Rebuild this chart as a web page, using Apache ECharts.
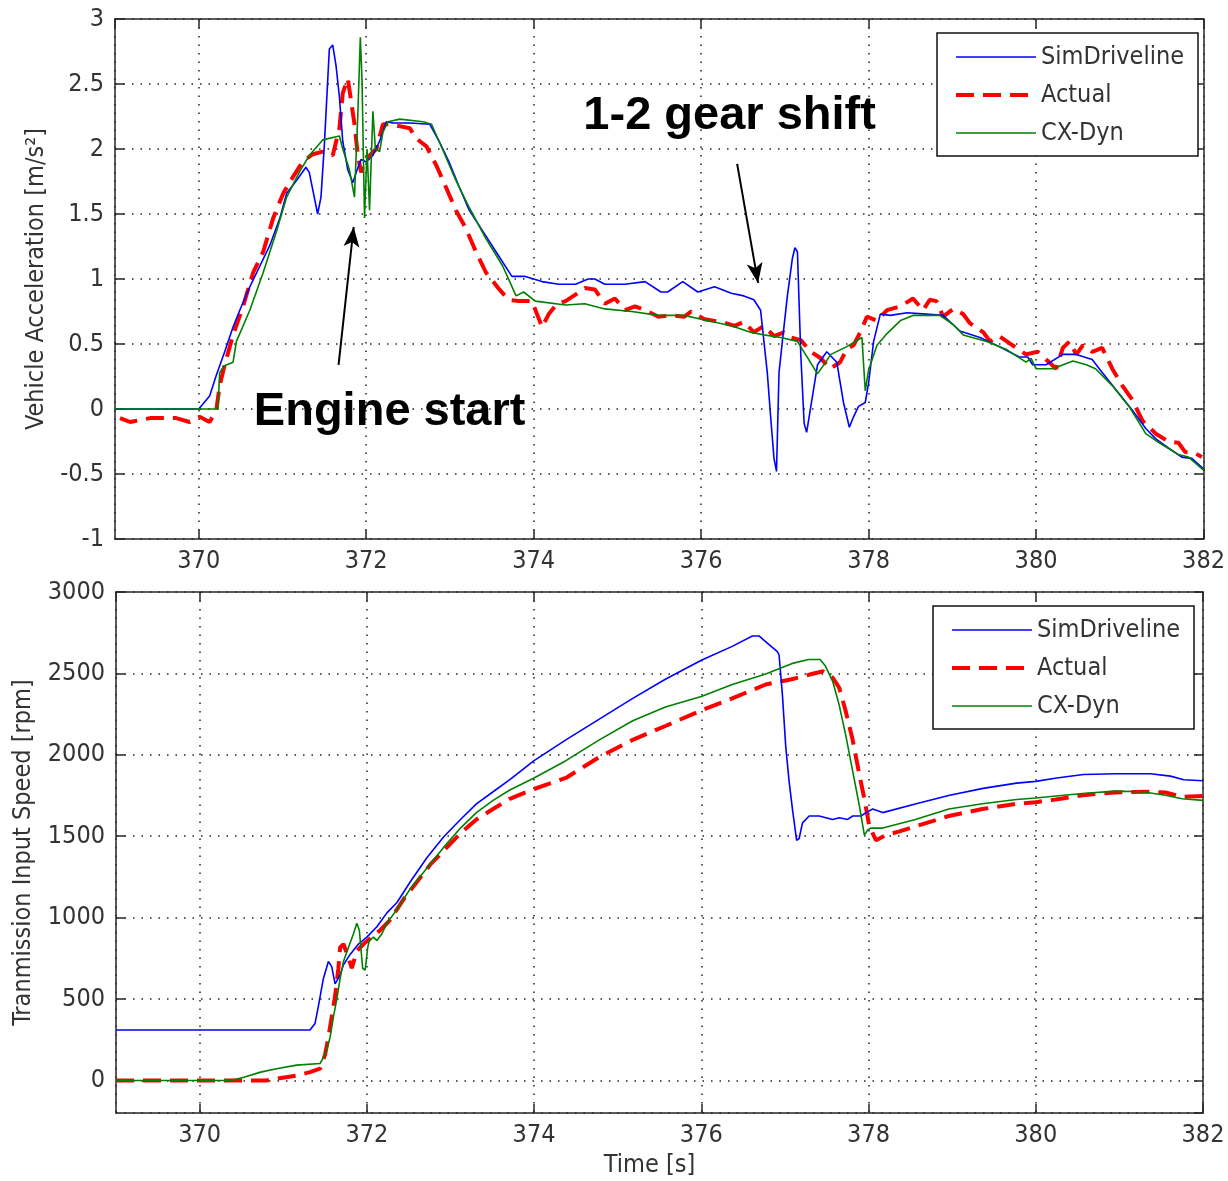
<!DOCTYPE html>
<html>
<head>
<meta charset="utf-8">
<script src="https://cdn.jsdelivr.net/npm/echarts@6/dist/echarts.min.js"></script>
<style>
html,body{margin:0;padding:0;background:#fff;}
#chart{width:1228px;height:1181px;}
</style>
</head>
<body>
<div id="chart"></div>
<script>
// ---------- DATA ----------
const seriesNames = ['SimDriveline', 'Actual', 'CX-Dyn'];
const xTicks = [370, 372, 374, 376, 378, 380, 382];

// Top panel: vehicle acceleration [m/s^2] as [time, value]
const accSim = [[369,0],[370,0],[370.13,0.1],[370.21,0.26],[370.31,0.44],[370.41,0.63],[370.49,0.76],[370.61,0.94],[370.73,1.1],[370.85,1.26],[370.97,1.47],[371.05,1.66],[371.17,1.76],[371.28,1.86],[371.32,1.82],[371.42,1.5],[371.46,1.63],[371.5,2.03],[371.56,2.77],[371.6,2.8],[371.64,2.64],[371.68,2.4],[371.72,2.06],[371.78,1.84],[371.84,1.74],[371.88,1.82],[371.94,1.92],[372.0,1.9],[372.08,1.95],[372.16,2.06],[372.24,2.21],[372.32,2.2],[372.52,2.2],[372.76,2.19],[372.87,2.06],[372.99,1.9],[373.11,1.71],[373.23,1.53],[373.39,1.37],[373.55,1.21],[373.74,1.02],[373.9,1.02],[374.1,0.98],[374.3,0.96],[374.5,0.96],[374.65,1.0],[374.73,1.0],[374.85,0.96],[375.09,0.96],[375.33,0.98],[375.52,0.9],[375.6,0.9],[375.78,0.98],[375.96,0.9],[376.16,0.94],[376.36,0.89],[376.51,0.87],[376.63,0.84],[376.71,0.76],[376.75,0.52],[376.79,0.28],[376.83,-0.06],[376.87,-0.38],[376.9,-0.48],[376.93,0.28],[376.97,0.52],[377.03,0.87],[377.09,1.16],[377.12,1.24],[377.15,1.21],[377.19,0.42],[377.23,-0.11],[377.26,-0.18],[377.31,0.02],[377.39,0.34],[377.5,0.44],[377.62,0.36],[377.7,0.05],[377.77,-0.14],[377.82,-0.06],[377.88,0.02],[377.96,0.05],[378.0,0.2],[378.06,0.52],[378.14,0.73],[378.26,0.72],[378.46,0.74],[378.69,0.73],[378.89,0.72],[379.09,0.6],[379.33,0.55],[379.56,0.48],[379.8,0.4],[379.9,0.4],[379.96,0.34],[380.12,0.34],[380.32,0.42],[380.48,0.42],[380.67,0.38],[380.79,0.28],[380.99,0.12],[381.15,-0.01],[381.31,-0.15],[381.43,-0.23],[381.58,-0.3],[381.74,-0.37],[381.86,-0.38],[382,-0.46]];
const accActual = [[369.06,-0.07],[369.18,-0.1],[369.42,-0.07],[369.73,-0.07],[369.89,-0.1],[370.01,-0.06],[370.13,-0.1],[370.21,-0.01],[370.25,0.18],[370.31,0.34],[370.41,0.57],[370.53,0.79],[370.65,1.05],[370.77,1.21],[370.89,1.47],[371.01,1.66],[371.13,1.79],[371.24,1.9],[371.36,1.96],[371.48,1.98],[371.6,1.95],[371.68,2.16],[371.72,2.43],[371.78,2.54],[371.82,2.37],[371.86,2.19],[371.9,1.95],[371.94,1.82],[371.98,1.92],[372.04,1.95],[372.12,2.0],[372.2,2.19],[372.28,2.19],[372.44,2.17],[372.52,2.16],[372.6,2.08],[372.72,2.02],[372.84,1.87],[372.95,1.71],[373.07,1.53],[373.19,1.39],[373.31,1.21],[373.43,1.05],[373.59,0.92],[373.7,0.84],[373.82,0.83],[373.98,0.83],[374.04,0.73],[374.1,0.63],[374.18,0.73],[374.28,0.81],[374.38,0.83],[374.5,0.88],[374.61,0.93],[374.73,0.92],[374.85,0.81],[374.97,0.85],[375.09,0.76],[375.21,0.79],[375.33,0.76],[375.49,0.71],[375.64,0.72],[375.8,0.71],[375.88,0.75],[376.04,0.69],[376.24,0.67],[376.4,0.64],[376.51,0.67],[376.63,0.59],[376.75,0.64],[376.87,0.56],[376.99,0.59],[377.07,0.55],[377.19,0.53],[377.31,0.44],[377.43,0.39],[377.54,0.31],[377.66,0.36],[377.74,0.46],[377.82,0.49],[377.9,0.59],[377.98,0.71],[378.1,0.68],[378.22,0.76],[378.38,0.79],[378.53,0.85],[378.65,0.76],[378.73,0.84],[378.81,0.83],[378.89,0.71],[379.01,0.77],[379.13,0.73],[379.21,0.66],[379.37,0.59],[379.45,0.52],[379.56,0.56],[379.72,0.49],[379.88,0.42],[380.02,0.44],[380.12,0.38],[380.24,0.31],[380.32,0.47],[380.4,0.52],[380.48,0.42],[380.56,0.49],[380.67,0.44],[380.79,0.47],[380.91,0.31],[381.03,0.18],[381.15,0.07],[381.27,-0.09],[381.43,-0.19],[381.58,-0.25],[381.7,-0.26],[381.78,-0.33],[381.9,-0.34],[381.98,-0.37]];
const accCX = [[369,0],[370.23,0],[370.25,0.28],[370.3,0.33],[370.41,0.36],[370.45,0.52],[370.61,0.76],[370.77,1.05],[370.93,1.37],[371.05,1.63],[371.2,1.82],[371.32,1.95],[371.48,2.07],[371.68,2.1],[371.72,2.0],[371.8,1.84],[371.86,1.63],[371.9,2.27],[371.93,2.86],[371.95,2.53],[371.98,1.47],[372.01,2.0],[372.04,1.53],[372.08,2.29],[372.11,2.0],[372.16,1.98],[372.2,2.13],[372.26,2.21],[372.4,2.23],[372.68,2.21],[372.78,2.19],[372.91,2.0],[373.07,1.76],[373.23,1.55],[373.43,1.31],[373.63,1.1],[373.79,0.87],[373.88,0.9],[374.02,0.83],[374.38,0.8],[374.61,0.81],[374.85,0.77],[375.17,0.75],[375.49,0.72],[375.8,0.72],[376,0.69],[376.36,0.64],[376.59,0.59],[376.75,0.57],[376.95,0.55],[377.15,0.52],[377.39,0.27],[377.55,0.42],[377.74,0.48],[377.92,0.55],[377.96,0.14],[378.0,0.3],[378.1,0.49],[378.22,0.58],[378.38,0.68],[378.53,0.72],[378.85,0.72],[379.01,0.65],[379.13,0.57],[379.41,0.52],[379.64,0.46],[379.88,0.36],[379.94,0.39],[380.0,0.31],[380.2,0.31],[380.44,0.37],[380.6,0.34],[380.71,0.31],[380.91,0.18],[381.11,0.02],[381.31,-0.19],[381.47,-0.26],[381.7,-0.35],[381.82,-0.37],[382,-0.47]];

// Bottom panel: transmission input speed [rpm] as [time, value]
const spdSim = [[369,310],[371.32,310],[371.38,349],[371.42,455],[371.48,625],[371.54,731],[371.58,699],[371.62,593],[371.68,646],[371.72,710],[371.8,774],[371.9,838],[372,880],[372.12,944],[372.24,1029],[372.36,1093],[372.52,1220],[372.72,1369],[372.92,1497],[373.12,1603],[373.31,1699],[373.51,1773],[373.71,1847],[374,1964],[374.38,2092],[374.78,2219],[375.18,2347],[375.57,2464],[376,2581],[376.37,2666],[376.61,2730],[376.69,2730],[376.81,2677],[376.91,2634],[376.93,2613],[376.97,2368],[377.01,2049],[377.05,1837],[377.09,1667],[377.14,1475],[377.17,1486],[377.21,1582],[377.29,1624],[377.41,1624],[377.57,1603],[377.65,1614],[377.75,1603],[377.81,1624],[377.91,1624],[377.97,1645],[378.05,1667],[378.17,1645],[378.57,1699],[378.97,1752],[379.37,1794],[379.77,1826],[380,1837],[380.25,1858],[380.57,1879],[380.97,1884],[381.37,1884],[381.61,1869],[381.77,1847],[382,1841]];
const spdActual = [[369,0],[370.8,0],[371.16,30],[371.32,51],[371.44,72],[371.5,157],[371.54,264],[371.58,391],[371.62,519],[371.66,689],[371.68,816],[371.72,838],[371.78,753],[371.82,689],[371.88,795],[371.96,838],[372.06,880],[372.16,923],[372.28,986],[372.44,1114],[372.6,1220],[372.76,1327],[372.92,1412],[373.12,1518],[373.31,1603],[373.51,1667],[373.71,1730],[374,1790],[374.38,1858],[374.78,1986],[375.18,2092],[375.57,2177],[376,2273],[376.37,2347],[376.77,2432],[377.08,2464],[377.32,2496],[377.46,2513],[377.57,2475],[377.65,2411],[377.73,2262],[377.81,2092],[377.89,1879],[377.95,1730],[378.01,1560],[378.09,1475],[378.21,1507],[378.36,1528],[378.56,1560],[378.96,1624],[379.36,1667],[379.77,1699],[380,1709],[380.24,1726],[380.56,1752],[380.95,1769],[381.35,1773],[381.55,1769],[381.75,1741],[382,1747]];
const spdCX = [[369,0],[370.37,0],[370.53,19],[370.73,51],[370.92,72],[371.16,94],[371.44,104],[371.5,157],[371.56,264],[371.6,391],[371.64,497],[371.68,625],[371.72,731],[371.78,816],[371.84,901],[371.88,965],[371.91,923],[371.95,689],[371.98,678],[372.01,816],[372.03,859],[372.08,880],[372.12,859],[372.18,901],[372.24,965],[372.36,1050],[372.52,1178],[372.72,1305],[372.92,1433],[373.12,1550],[373.31,1645],[373.51,1720],[373.71,1784],[374,1858],[374.38,1964],[374.78,2092],[375.18,2209],[375.57,2294],[376,2358],[376.37,2432],[376.77,2496],[377.08,2560],[377.28,2585],[377.42,2585],[377.48,2549],[377.57,2453],[377.65,2304],[377.73,2113],[377.81,1900],[377.89,1688],[377.95,1507],[377.99,1539],[378.03,1550],[378.17,1550],[378.56,1603],[378.96,1667],[379.36,1699],[379.77,1726],[380,1735],[380.24,1747],[380.56,1762],[380.95,1777],[381.27,1773],[381.55,1752],[381.75,1730],[382,1720]];

// Annotations (top panel, data coordinates)
const annoTexts = ['Engine start', '1-2 gear shift'];
const annoTextPos = [[372.28, -0.02], [376.34, 2.25]];
const annoArrowFrom = [[371.67, 0.34], [376.43, 1.885]];
const annoArrowTo = [[371.85, 1.40], [376.68, 0.97]];

// ---------- CHART ----------
const FONT = "'Liberation Sans Narrow', 'DejaVu Sans Condensed', 'Liberation Sans', Arial, sans-serif";
const AX = '#262626';
const colors = ['#0000ff', '#ff0000', '#008000'];
const lineStyles = [
  {color: colors[0], width: 1.6},
  {color: colors[1], width: 4, type: [18, 9]},
  {color: colors[2], width: 1.6}
];

const chart = echarts.init(document.getElementById('chart'), null, {renderer: 'canvas'});

const plainNum = v => String(v);

function mainX(gi, showName) {
  return {
    type: 'value', gridIndex: gi, min: 369, max: 382, splitNumber: 6, position: 'bottom',
    axisLine: {show: true, onZero: false, lineStyle: {color: AX, width: 1.5}},
    axisTick: {show: true, inside: true, length: 9, lineStyle: {color: AX, width: 1.5}},
    axisLabel: {show: true, showMinLabel: false, color: '#333', fontFamily: FONT, fontSize: 25, margin: 10, formatter: plainNum},
    splitLine: {show: true, lineStyle: {color: '#222', width: 1.5, type: [1.5, 7]}},
    name: showName ? 'Time [s]' : '', nameLocation: 'middle', nameGap: 40,
    nameTextStyle: {color: '#333', fontFamily: FONT, fontSize: 25, padding: [0, 20, 0, 0]}
  };
}
function mirrorX(gi) {
  return {
    type: 'value', gridIndex: gi, min: 369, max: 382, splitNumber: 6, position: 'top',
    axisLine: {show: true, onZero: false, lineStyle: {color: AX, width: 1.5}},
    axisTick: {show: true, inside: true, length: 9, lineStyle: {color: AX, width: 1.5}},
    axisLabel: {show: false}, splitLine: {show: false}
  };
}
function mainY(gi, min, max, name, gap) {
  return {
    type: 'value', gridIndex: gi, min: min, max: max, splitNumber: (gi === 0 ? 8 : 6), position: 'left',
    axisLine: {show: true, onZero: false, lineStyle: {color: AX, width: 1.5}},
    axisTick: {show: true, inside: true, length: 9, lineStyle: {color: AX, width: 1.5}},
    axisLabel: {show: true, showMinLabel: gi === 0, color: '#333', fontFamily: FONT, fontSize: 25, margin: 11, formatter: plainNum},
    splitLine: {show: true, lineStyle: {color: '#222', width: 1.5, type: [1.5, 7]}},
    name: name, nameLocation: 'middle', nameGap: gap,
    nameTextStyle: {color: '#333', fontFamily: FONT, fontSize: 25}
  };
}
function mirrorY(gi, min, max) {
  return {
    type: 'value', gridIndex: gi, min: min, max: max, splitNumber: (gi === 0 ? 8 : 6), position: 'right',
    axisLine: {show: true, onZero: false, lineStyle: {color: AX, width: 1.5}},
    axisTick: {show: true, inside: true, length: 9, lineStyle: {color: AX, width: 1.5}},
    axisLabel: {show: false}, splitLine: {show: false}
  };
}
function lineSeries(name, idx, xi, yi, data) {
  return {
    name: name, type: 'line', xAxisIndex: xi, yAxisIndex: yi, data: data,
    symbol: 'none', showSymbol: false, smooth: false, animation: false, z: idx === 1 ? 3 : 4,
    lineStyle: lineStyles[idx],
    itemStyle: {color: colors[idx]}
  };
}

const legendCommon = {
  orient: 'vertical', itemWidth: 80, itemHeight: 14, itemGap: 10,
  backgroundColor: '#fff', borderColor: '#111', borderWidth: 1.5, borderRadius: 0,
  textStyle: {color: '#333', fontFamily: FONT, fontSize: 25, lineHeight: 28},
  itemStyle: {opacity: 0},
  selectedMode: false,
  data: seriesNames.map((n, i) => ({name: n, itemStyle: {opacity: 0}, lineStyle: Object.assign({}, lineStyles[i])}))
};

const accSeries = [accSim, accActual, accCX];
const spdSeries = [spdSim, spdActual, spdCX];

const option = {
  backgroundColor: '#fff',
  animation: false,
  grid: [
    {left: 115, top: 19, width: 1092, height: 520, containLabel: false},
    {left: 116, top: 592, width: 1087, height: 521, containLabel: false}
  ],
  xAxis: [mainX(0, false), mainX(1, true), mirrorX(0), mirrorX(1)],
  yAxis: [
    mainY(0, -1, 3, 'Vehicle Acceleration [m/s²]', 66),
    mainY(1, -200, 3000, 'Tranmission Input Speed [rpm]', 80),
    mirrorY(0, -1, 3), mirrorY(1, -200, 3000)
  ],
  legend: [
    Object.assign({}, legendCommon, {left: 937, top: 33, padding: [10, 14, 9, 17]}),
    Object.assign({}, legendCommon, {left: 933, top: 606, padding: [10, 14, 9, 17]})
  ],
  series: []
};

seriesNames.forEach((n, i) => option.series.push(lineSeries(n, i, 0, 0, accSeries[i])));
seriesNames.forEach((n, i) => option.series.push(lineSeries(n, i, 1, 1, spdSeries[i])));

// Arrows as a markLine on an empty helper series
option.series.push({
  type: 'line', xAxisIndex: 0, yAxisIndex: 0, data: [], symbol: 'none', silent: true, z: 10,
  markLine: {
    silent: true, animation: false, symbol: ['none', 'arrow'], symbolSize: [12, 20],
    lineStyle: {color: '#000', width: 2, type: 'solid'}, label: {show: false},
    data: annoArrowFrom.map((p, i) => [{coord: p}, {coord: annoArrowTo[i]}])
  }
});

chart.setOption(option);

// Annotation texts placed through the axis scales
const graphics = annoTexts.map((t, i) => {
  const p = chart.convertToPixel({gridIndex: 0}, annoTextPos[i]);
  return {
    type: 'text', x: p[0], y: p[1], z: 100,
    style: {text: t, fill: '#000', font: "bold 47px 'Liberation Sans', Arial, sans-serif", align: 'center', verticalAlign: 'middle'}
  };
});
chart.setOption({graphic: graphics});
</script>
</body>
</html>
